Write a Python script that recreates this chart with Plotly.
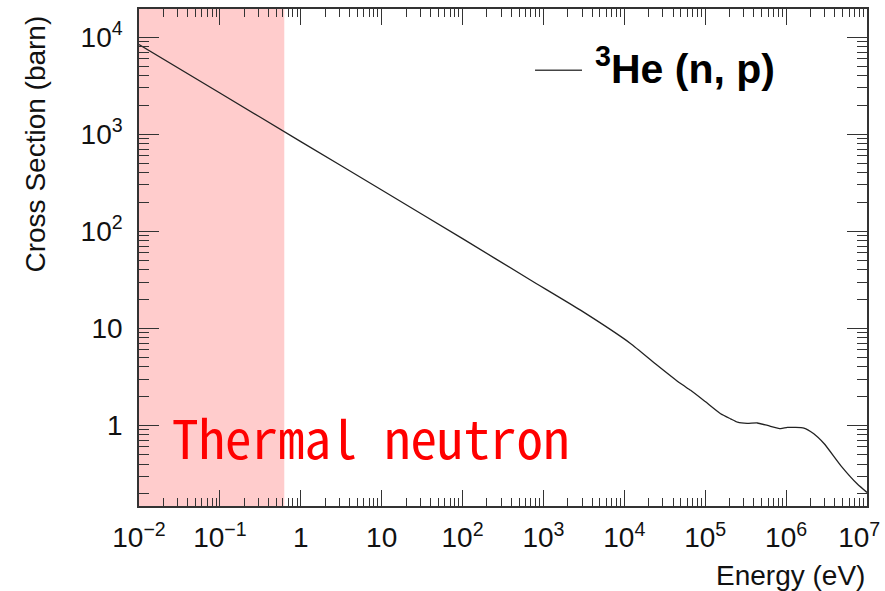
import plotly.graph_objects as go

# Data (3He(n,p) cross section)
energy_eV = [0.01, 0.1, 1, 10, 100, 690, 2870, 11900, 24400, 49700, 66000, 1e5,
             1.55e5, 2.06e5, 2.51e5, 3.3e5, 4.41e5, 5.89e5, 8.57e5, 1.04e6, 1.66e6,
             2.2e6, 2.96e6, 4.74e6, 7.6e6, 1e7]
xsec_barn = [8400, 2660, 840, 266, 84, 31.5, 15.4, 7.0, 4.3, 2.70, 2.30, 1.76,
             1.32, 1.17, 1.08, 1.05, 1.06, 1.0, 0.925, 0.955, 0.94,
             0.82, 0.647, 0.386, 0.249, 0.204]

thermal_range = [0.01, 0.625]

x_tickvals = [1e-2, 1e-1, 1, 10, 1e2, 1e3, 1e4, 1e5, 1e6, 1e7]
x_ticktext = ["10<sup>−2</sup>", "10<sup>−1</sup>", "1", "10", "10<sup>2</sup>",
              "10<sup>3</sup>", "10<sup>4</sup>", "10<sup>5</sup>", "10<sup>6</sup>",
              "10<sup>7</sup>\u00a0\u00a0"]
y_tickvals = [1, 10, 1e2, 1e3, 1e4]
y_ticktext = ["1", "10", "10<sup>2</sup>", "10<sup>3</sup>", "10<sup>4</sup>"]

def minor_vals(lo_exp, hi_exp):
    vals = []
    for e in range(lo_exp, hi_exp + 1):
        for k in range(2, 10):
            vals.append(k * 10.0 ** e)
    return vals

FONT = "Liberation Sans, Arial, Helvetica, sans-serif"

fig = go.Figure()
fig.add_trace(go.Scatter(
    x=energy_eV, y=xsec_barn, mode="lines",
    line=dict(color="#222222", width=1.3, shape="spline", smoothing=0.5),
    name="<sup>3</sup>He (n, p)", showlegend=False,
))

fig.add_shape(type="rect", xref="x", yref="paper",
              x0=thermal_range[0], x1=thermal_range[1], y0=0, y1=1,
              fillcolor="#ffcccc", line=dict(width=0), layer="below")

# legend sample (line + label)
fig.add_shape(type="line", xref="paper", yref="paper",
              x0=0.544, x1=0.6085, y0=0.877, y1=0.877,
              line=dict(color="#444444", width=1.5))
fig.add_annotation(x=0.6236, y=0.885, xref="paper", yref="paper",
                   text="<b><sup>3</sup>He (n, p)</b>", showarrow=False,
                   xanchor="left", yanchor="middle",
                   font=dict(family=FONT, size=41, color="#000000"))

fig.add_annotation(x=0.0, y=0.0, xref="paper", yref="paper",
                   text="Thermal neutron", showarrow=False,
                   xanchor="left", yanchor="bottom", xshift=31, yshift=30,
                   font=dict(family="Noto Sans Mono CJK JP, DejaVu Sans Mono, monospace",
                             size=53, color="#ff0000"))

fig.add_annotation(x=1.0, y=0.0, xref="paper", yref="paper",
                   text="Energy (eV)", showarrow=False,
                   xanchor="right", yanchor="middle", yshift=-69,
                   font=dict(family=FONT, size=28, color="#111111"))

fig.add_annotation(x=0.0, y=1.0, xref="paper", yref="paper",
                   text="Cross Section (barn)", showarrow=False, textangle=-90,
                   xanchor="center", yanchor="top", xshift=-104, yshift=-5,
                   font=dict(family=FONT, size=28, color="#111111"))

axis_common = dict(
    type="log", showgrid=False, zeroline=False, automargin=False,
    showline=True, linecolor="#333333", linewidth=1.5, mirror="ticks",
    ticks="inside", tickcolor="#333333", tickwidth=1,
    tickfont=dict(family=FONT, size=28, color="#111111"),
    tickmode="array", ticklabeloverflow="allow",
)

fig.update_xaxes(**axis_common, range=[-2, 7], tickvals=x_tickvals, ticktext=x_ticktext,
                 ticklen=16, ticklabelstandoff=6,
                 minor=dict(tickmode="array", tickvals=minor_vals(-2, 6), ticks="inside",
                            ticklen=8, tickcolor="#333333", tickwidth=1, showgrid=False))
fig.update_yaxes(**axis_common, range=[-0.83, 4.29], tickvals=y_tickvals, ticktext=y_ticktext,
                 ticklen=20, ticklabelstandoff=9,
                 minor=dict(tickmode="array", tickvals=minor_vals(-1, 4), ticks="inside",
                            ticklen=10, tickcolor="#333333", tickwidth=1, showgrid=False))

fig.update_layout(
    width=885, height=591,
    margin=dict(l=139, r=18, t=9, b=85),
    paper_bgcolor="white", plot_bgcolor="white",
    showlegend=False,
)

fig.write_html("out.html", config={"displayModeBar": False},
               post_script="document.body.style.margin='0px';document.body.style.overflow='hidden';")
